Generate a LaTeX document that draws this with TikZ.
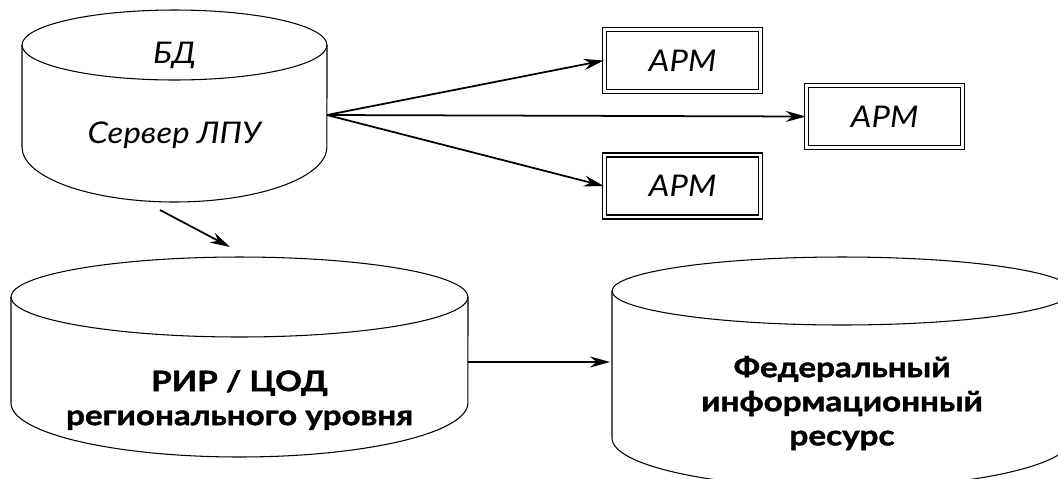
\documentclass[tikz,border=0pt]{standalone}
\usepackage{fontspec}
\setmainfont{Lato}
\newfontfamily\obliquefont{Lato}[FakeStretch=1.1]
\newfontfamily\heavyfont{Lato}[FakeStretch=1.18, FakeBold=1.5]
\usetikzlibrary{arrows.meta,positioning,calc}

\begin{document}
\begin{tikzpicture}[
  x=0.02cm, y=-0.02cm,
  every node/.style={font=\obliquefont\fontsize{17}{20}\selectfont\itshape},
  cyl/.style={line width=0.6pt},
  apm/.style={draw, double, line width=0.8pt, double distance=1.3pt, minimum width=3.12cm, minimum height=1.24cm},
  bigtext/.style={font=\heavyfont\fontsize{16}{19.4}\selectfont\bfseries, align=center},
  arrow/.style={-{Stealth[length=4mm, width=2.2mm]}, line width=1pt}
]
\useasboundingbox (0,0) rectangle (1058,478);
\clip (0,0) rectangle (1058,478);

% server
\draw[cyl] (174.5,45) ellipse [x radius=3.05cm, y radius=0.7cm];
\draw[cyl] (22,45) -- (22,147) arc[start angle=180, end angle=360, x radius=3.05cm, y radius=1.1cm] -- (327,45);
\node (bd) at (174.5,55) {БД};
\node (srv) at (174.5,135) {Сервер ЛПУ};
\coordinate (srvout) at (327,115);

% workstations
\node[apm] (apm1) at (682.5,60.5) {АРМ};
\node[apm] (apm2) at (884.5,116.5) {АРМ};
\node[apm] (apm3) at (682.5,186) {АРМ};
\draw[arrow] (srvout) -- (apm1.west);
\draw[arrow] (srvout) -- (apm2.west);
\draw[arrow] (srvout) -- (apm3.west);

% regional level
\coordinate (dnA) at (160,210);
\coordinate (dnB) at (230,247);
\draw[arrow] (dnA) -- (dnB);
\draw[cyl] (239.5,297) ellipse [x radius=4.57cm, y radius=0.8cm];
\draw[cyl] (11,297) -- (11,403) arc[start angle=180, end angle=360, x radius=4.57cm, y radius=1.08cm] -- (468,297);
\node[bigtext] (rir) at (239.5,400) {РИР / ЦОД\\регионального уровня};
\coordinate (rirout) at (468,362);

% federal level
\draw[cyl] (842,291) ellipse [x radius=4.6cm, y radius=0.68cm];
\draw[cyl] (612,291) -- (612,438) arc[start angle=180, end angle=360, x radius=4.6cm, y radius=1cm] -- (1072,291);
\node[bigtext] (fed) at (842,403) {Федеральный\\информационный\\ресурс};
\coordinate (fedin) at (610,362);
\draw[arrow] (rirout) -- (fedin);
\end{tikzpicture}
\end{document}
